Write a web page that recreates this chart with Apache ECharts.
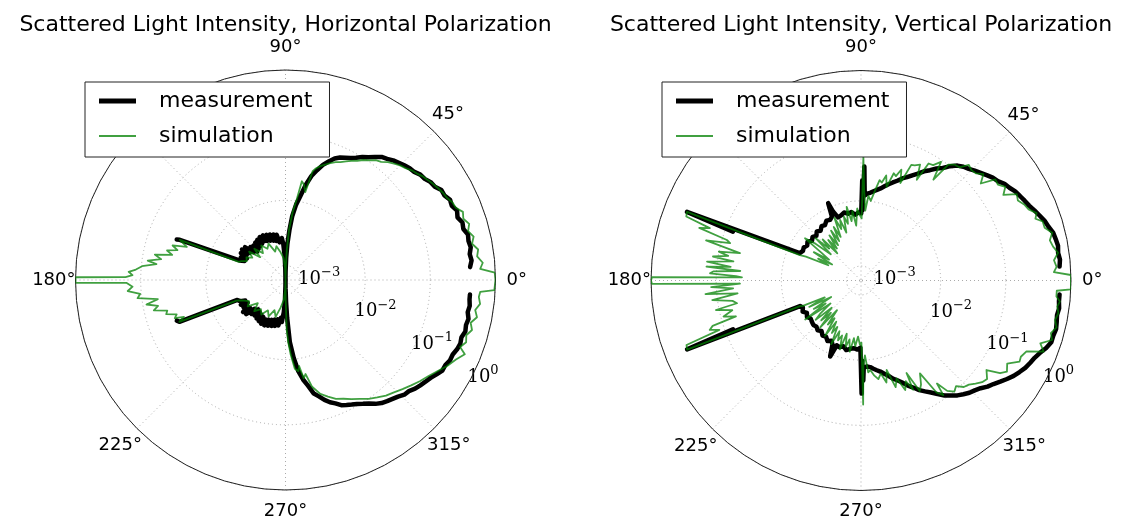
<!DOCTYPE html>
<html><head><meta charset="utf-8">
<script src="https://cdn.jsdelivr.net/npm/echarts@6/dist/echarts.min.js"></script>
<style>html,body{margin:0;padding:0;background:#fff}#c{width:1129px;height:520px}</style>
</head><body><div id="c"></div>
<script>
// ---------- DATA (angle in degrees, intensity on log scale) ----------
const titles = ['Scattered Light Intensity, Horizontal Polarization', 'Scattered Light Intensity, Vertical Polarization'];
const seriesNames = ['measurement', 'simulation'];
const angleTicks = [0, 45, 90, 135, 180, 225, 270, 315];
const radiusTicks = [0.001, 0.01, 0.1, 1];

// Horizontal polarization - measurement (upper half)
const hMeasUpAng = [4,6,8,10,12,14,16,18,20,22,24,26,28,30,32,34,36,38,40,42,44,46,48,50,52,54,56,58,60,62,64,66,68,70,72,74,76,78,80,82,84,85.5,87,88.3,89.4,90,91,92,93.5,95,97,99,101,103,105,107,109,111,113,115,117,119,121,123,125,127,129,131,133,135,137,139,141,143,145,147,149,151,153,155,157,158.3,159.2,159.6];
const hMeasUpVal = [0.414,0.445,0.429,0.461,0.445,0.461,0.414,0.429,0.386,0.414,0.373,0.386,0.347,0.347,0.302,0.291,0.262,0.253,0.228,0.22,0.205,0.19,0.177,0.16,0.149,0.129,0.112,0.101,0.0877,0.0788,0.0735,0.0685,0.0615,0.0516,0.0432,0.0338,0.0264,0.0185,0.0121,0.00883,0.00578,0.00352,0.00215,0.00131,0.0008,0.00061,0.00092,0.00141,0.00215,0.00266,0.00285,0.00231,0.00306,0.00247,0.00317,0.00256,0.00328,0.00266,0.0034,0.00275,0.00352,0.00285,0.00352,0.00275,0.0034,0.00266,0.00328,0.00256,0.00317,0.00247,0.00328,0.00266,0.00378,0.00295,0.00392,0.00306,0.00378,0.00285,0.00352,0.00295,0.00352,0.00352,0.0326,0.0362];
// Horizontal polarization - measurement (lower half)
const hMeasLoAng = [200.5,201.5,202.5,205,207,209,211,213,215,217,219,221,223,225,227,229,231,233,235,237,239,241,243,245,247,249,251,253,255,257,259,261,263,265,267,268.5,269.5,270,270.5,271.5,272.5,274,276,278,280,282,284,286,288,290,292,294,296,298,300,302,304,306,308,310,312,314,316,318,320,322,324,326,328,330,332,334,336,338,340,342,344,346,348,350,352,354,355.5];
const hMeasLoVal = [0.0362,0.0338,0.00378,0.00352,0.00295,0.00365,0.00285,0.00352,0.00306,0.00392,0.00295,0.00378,0.00266,0.00328,0.00247,0.00317,0.00256,0.00328,0.00266,0.0034,0.00275,0.00352,0.00285,0.00352,0.00275,0.0034,0.00266,0.00328,0.00256,0.00317,0.00247,0.00306,0.00231,0.00266,0.00187,0.00122,0.000745,0.00061,0.0008,0.00131,0.00231,0.00538,0.00947,0.0155,0.0213,0.0273,0.0375,0.0432,0.0516,0.0594,0.0661,0.076,0.0817,0.0877,0.094,0.1045,0.116,0.134,0.149,0.16,0.171,0.184,0.205,0.212,0.236,0.253,0.271,0.291,0.324,0.36,0.36,0.386,0.386,0.414,0.429,0.414,0.445,0.429,0.445,0.414,0.429,0.414,0.414];
// Horizontal polarization - simulation (full circle)
const hSimAng = [0,2,3.3,5,7,9,11,13,15,17,19,21,23,25,27,29,31,33,35,37,39,41,43,45,47,49,51,53,55,57,59,61,63,65,67,69,71,73,75,76,77.3,79,80.6,82,84,86,87.5,88.5,89.5,90,92,95,100,105,110,115,120,125,130,135,138,142,146,150,154,157,158.8,159.2,160,161.5,163,164.5,166,167.5,169,170.5,172,173,174.5,176,177,178.2,179,179.25,180,180.75,181,182.5,184,185.5,187,188.5,190,191.5,193,194.5,196,197.5,199,200,201.5,202.8,205,210,215,220,225,230,235,240,245,250,255,260,265,268,270,270.6,271.4,272.5,274,276,278,279,280.5,282,284,287,290,293,296,299,302,305,308,311,314,317,320,323,326,329,332,335,337.5,339,341,343,345,347,349,351,353,355,356.5,357.2,360];
const hSimVal = [1,0.98,0.59,0.655,0.55,0.59,0.494,0.55,0.477,0.531,0.461,0.494,0.414,0.4,0.36,0.347,0.324,0.302,0.281,0.262,0.236,0.22,0.197,0.184,0.166,0.149,0.129,0.12,0.1045,0.094,0.0817,0.0735,0.0661,0.0594,0.0553,0.0498,0.0448,0.0403,0.035,0.0315,0.0145,0.0185,0.0206,0.0109,0.00665,0.00352,0.00174,0.00102,0.00067,0.00061,0.00092,0.00131,0.00162,0.00207,0.00174,0.00247,0.00215,0.00266,0.00207,0.00285,0.002,0.00306,0.00247,0.00295,0.00275,0.00328,0.00352,0.0326,0.0326,0.0237,0.0389,0.0315,0.0448,0.0362,0.0661,0.0516,0.0817,0.0594,0.0975,0.12,0.154,0.134,0.171,1,1,1,0.166,0.134,0.16,0.1045,0.116,0.0573,0.0877,0.0594,0.0709,0.0448,0.0481,0.0338,0.0375,0.0273,0.0338,0.00392,0.00328,0.00266,0.00306,0.00215,0.00285,0.00231,0.00266,0.00207,0.00247,0.00187,0.00231,0.00162,0.00122,0.00086,0.00061,0.00122,0.00352,0.00538,0.0085,0.014,0.0155,0.013,0.0206,0.0179,0.0293,0.0403,0.0481,0.0573,0.0638,0.0735,0.0846,0.101,0.116,0.134,0.149,0.171,0.197,0.228,0.262,0.313,0.386,0.461,0.569,0.445,0.512,0.477,0.55,0.494,0.59,0.531,0.611,0.569,0.59,0.968,1];

// Vertical polarization - measurement (upper half)
const vMeasUpAng = [4,6,8,10,12,14,16,18,20,22,24,26,28,30,32,34,36,38,40,42,44,46,48,50,52,54,56,58,60,62,64,66,68,70,72,74,76,78,80,82,84,86,87.5,88.3,88.8,89.3,89.8,92,95,98,101,104,107,110,112,113,114.5,117,120,123,126,129,132,135,138,141,144,147,150,153,156,157.3,158.5,159.1];
const vMeasUpVal = [0.679,0.704,0.679,0.704,0.679,0.655,0.59,0.55,0.494,0.445,0.4,0.373,0.347,0.324,0.291,0.271,0.236,0.22,0.197,0.177,0.16,0.144,0.134,0.12,0.101,0.0817,0.0709,0.0594,0.0516,0.0432,0.0375,0.0326,0.0293,0.0255,0.0229,0.0206,0.0185,0.0167,0.0155,0.0145,0.0135,0.013,0.0121,0.0338,0.00714,0.0206,0.00643,0.00665,0.0062,0.0069,0.00665,0.00714,0.00665,0.00643,0.00823,0.0117,0.00714,0.00665,0.0069,0.0062,0.00643,0.00578,0.0062,0.00557,0.006,0.00557,0.0062,0.00578,0.0062,0.006,0.00643,0.0062,0.445,0.076];
// Vertical polarization - measurement (lower half)
const vMeasLoAng = [200.9,201.6,202.8,205,208,211,214,217,220,223,226,229,232,235,238,241,244,246,247.9,249.5,252,255,258,261,264,267,269.5,270.3,270.8,271.3,271.8,274,276,278,280,282,284,286,288,290,292,294,296,298,300,302,304,306,308,310,312,314,316,318,320,322,324,326,328,330,332,334,336,338,340,342,344,346,348,350,352,354,356];
const vMeasLoVal = [0.076,0.445,0.0062,0.00578,0.0062,0.00557,0.006,0.00557,0.00578,0.006,0.00578,0.0062,0.00578,0.00643,0.0062,0.0069,0.00643,0.00714,0.0109,0.0069,0.00714,0.00665,0.0074,0.0069,0.00665,0.0069,0.00643,0.0326,0.0102,0.0206,0.013,0.0126,0.013,0.014,0.015,0.0161,0.0179,0.0199,0.0229,0.0255,0.0293,0.035,0.0403,0.0481,0.0553,0.0638,0.076,0.0908,0.1045,0.12,0.134,0.149,0.16,0.177,0.205,0.228,0.262,0.302,0.347,0.386,0.429,0.461,0.494,0.55,0.633,0.704,0.704,0.729,0.704,0.679,0.704,0.679,0.679];
// Vertical polarization - simulation (full circle)
const vSimAng = [0,1.5,2.5,4,6,8,10,12,14,16,18,19.5,21,23,25,27,29,31,33,35,37,39,41,43,45,47,49,51,53,54.3,56,58,60,61,63,65,66.5,68,70,71.5,73,74.7,76.5,78,79.5,81,83,85,86.5,88,88.9,89.4,91,93,95,97,99,101,103,105,107,109,111,113,115,117,119,121,123,125,127,129,131,133,135,137,139,141,143,145,147,149,151,153,155,156.5,157.5,158.5,159.9,160.9,162,163.2,164.1,165.5,167.3,168.5,169.5,170.8,171.5,173,174,174.9,175.5,176.5,177.3,178,178.5,179.1,180,180.9,181.5,182.5,183.5,185,186,187.5,189,190.4,191.5,193,194.7,196,197,198.1,199.2,200.3,201.7,202.8,203.5,205,207,209,211,213,215,217,219,221,223,225,227,229,231,233,235,237,239,241,243,245,247,249,251,253,255,257,259,261,263,265,267,269,270.4,271,271.6,273,274.5,276,278,280,282,284,286,288,290,292,294,295.5,296.2,298,300,302.4,304,305.7,306.4,308,310,312,314,316,318,320,322,324.5,326.3,328,330.4,332.9,334.5,336.8,338.7,340.7,342.7,344.5,346.5,348.5,350.6,352.5,354,355.3,357,357.6,360];
const vSimVal = [1,1,0.55,0.611,0.569,0.679,0.59,0.55,0.633,0.512,0.512,0.414,0.461,0.373,0.347,0.302,0.324,0.212,0.262,0.22,0.228,0.139,0.184,0.154,0.149,0.16,0.12,0.116,0.101,0.0481,0.094,0.0735,0.0709,0.035,0.0594,0.0534,0.0516,0.0246,0.0389,0.0293,0.0315,0.0185,0.0273,0.0206,0.0221,0.0155,0.0102,0.0121,0.00714,0.0145,0.0481,0.00538,0.006,0.00766,0.0042,0.00714,0.005,0.0085,0.00468,0.0062,0.00352,0.00578,0.0042,0.00665,0.00328,0.005,0.00295,0.00468,0.00266,0.0042,0.00247,0.00378,0.00215,0.00436,0.00295,0.00538,0.00247,0.00468,0.00714,0.00328,0.00231,0.0042,0.00193,0.00328,0.00215,0.005,0.0062,0.445,0.429,0.171,0.244,0.0846,0.0735,0.171,0.0481,0.101,0.0709,0.12,0.0573,0.144,0.0615,0.144,0.0432,0.112,0.125,0.0498,0.0403,0.968,1,0.968,0.0432,0.12,0.0553,0.149,0.0481,0.12,0.0594,0.0516,0.112,0.0638,0.0908,0.0594,0.144,0.166,0.12,0.429,0.445,0.0062,0.00578,0.00247,0.00468,0.002,0.0042,0.00266,0.00665,0.00231,0.00378,0.005,0.00247,0.00436,0.00285,0.00538,0.00231,0.0042,0.00306,0.0062,0.00328,0.005,0.00378,0.00714,0.0042,0.00578,0.00468,0.00766,0.0042,0.00665,0.005,0.00766,0.00468,0.0062,0.00436,0.00578,0.00538,0.0481,0.0121,0.0085,0.0155,0.0145,0.0179,0.0206,0.0173,0.0246,0.0161,0.0315,0.0237,0.0389,0.0293,0.0432,0.0229,0.0498,0.0417,0.0293,0.0709,0.0877,0.0553,0.0846,0.101,0.0908,0.112,0.12,0.139,0.16,0.171,0.139,0.22,0.262,0.228,0.324,0.313,0.347,0.611,0.494,0.704,0.633,0.729,0.655,0.704,0.655,0.704,0.611,0.611,1,1];

// ---------- CHART ----------
const FONT = 'DejaVu Sans';
const SERIF = 'DejaVu Serif';
const centers = [[285.5, 280], [861, 280.5]];
const R = 210;
const RMIN = 0.0006, RMAX = 1;
const GREEN = 'rgba(0,128,0,0.75)';

function pairs(ang, val) { return ang.map((a, i) => [val[i], a]); }

const anglePad = {0:[0,0,0,25],45:[0,0,18,8],90:[0,0,28,0],135:[0,8,18,0],180:[0,14,0,0],225:[18,5,0,0],270:[26,0,0,0],315:[18,0,0,3]};
const angleRich = {};
angleTicks.forEach(a => { angleRich['a' + a] = {fontSize: 18, fontFamily: FONT, color: '#000', padding: anglePad[a]}; });

function angleFmt(v) { return (angleTicks.indexOf(v) >= 0) ? '{a' + v + '|' + v + '°}' : ''; }
function radiusFmt(v) {
  const hit = radiusTicks.find(t => Math.abs(t - v) / t < 1e-6);
  if (hit === undefined) return '';
  const n = Math.round(Math.log10(hit));
  return '{b|10}{s|' + (n < 0 ? '\u2212' + (-n) : String(n)) + '}';
}

const polar = [], angleAxis = [], radiusAxis = [], series = [], legend = [], graphic = [];
const dataSets = [
  {mUp: pairs(hMeasUpAng, hMeasUpVal), mLo: pairs(hMeasLoAng, hMeasLoVal), sim: pairs(hSimAng, hSimVal)},
  {mUp: pairs(vMeasUpAng, vMeasUpVal), mLo: pairs(vMeasLoAng, vMeasLoVal), sim: pairs(vSimAng, vSimVal)}
];
const gridLine = {color: '#aaa', width: 1, type: [1, 3]};

centers.forEach((c, k) => {
  const pData = 2 * k, pLab = 2 * k + 1;
  polar.push({center: c, radius: R});
  polar.push({center: [c[0] - 4.6, c[1]], radius: R});  // carries the radial tick labels only
  angleAxis.push({
    polarIndex: pData, type: 'value', min: 0, max: 360, interval: 45, startAngle: 0, clockwise: false, z: 1,
    axisLine: {show: true, lineStyle: {color: '#222', width: 1}},
    axisTick: {show: false},
    axisLabel: {show: true, margin: -14, formatter: angleFmt, rich: angleRich, color: '#000', fontSize: 18, fontFamily: FONT},
    splitLine: {show: true, lineStyle: gridLine}
  });
  angleAxis.push({polarIndex: pLab, type: 'value', min: 0, max: 360, startAngle: -30, show: false});
  radiusAxis.push({
    polarIndex: pData, type: 'log', logBase: 10, min: RMIN, max: RMAX, z: 0,
    axisLine: {show: false}, axisTick: {show: false}, axisLabel: {show: false},
    splitLine: {show: true, lineStyle: gridLine}
  });
  radiusAxis.push({
    polarIndex: pLab, type: 'log', logBase: 10, min: RMIN, max: RMAX, z: 0,
    axisLine: {show: false}, axisTick: {show: false}, splitLine: {show: false},
    axisLabel: {show: true, margin: 9.4, formatter: radiusFmt, rich: {
      b: {fontSize: 18, fontFamily: SERIF, color: '#000'},
      s: {fontSize: 13, fontFamily: SERIF, color: '#000', padding: [0, 0, 13, 0]}
    }}
  });
  const d = dataSets[k];
  const mStyle = {color: '#000', width: 4.5, join: 'round', cap: 'round'};
  series.push({type: 'line', name: seriesNames[0], coordinateSystem: 'polar', polarIndex: pData, data: d.mUp, symbol: 'none', lineStyle: mStyle, itemStyle: {color: '#000'}, z: 2, animation: false});
  series.push({type: 'line', name: seriesNames[0], coordinateSystem: 'polar', polarIndex: pData, data: d.mLo, symbol: 'none', lineStyle: mStyle, itemStyle: {color: '#000'}, z: 2, animation: false});
  series.push({type: 'line', name: seriesNames[1], coordinateSystem: 'polar', polarIndex: pData, data: d.sim, symbol: 'none', lineStyle: {color: GREEN, width: 1.8, join: 'round'}, itemStyle: {color: GREEN}, z: 3, animation: false});
  legend.push({
    left: k === 0 ? 85 : 662, top: 82, orient: 'vertical', selectedMode: false,
    padding: [8, 17, 10, 14], itemGap: 13, itemWidth: 37, itemHeight: 14, symbolKeepAspect: true,
    borderColor: '#222', borderWidth: 1, borderRadius: 0, backgroundColor: '#fff', z: 10,
    formatter: n => '{t|' + n + '}',
    textStyle: {fontFamily: FONT, fontSize: 22, color: '#000', rich: {t: {fontFamily: FONT, fontSize: 22, color: '#000', padding: [0, 0, 0, 18]}}},
    data: [
      {name: seriesNames[0], icon: 'path://M0,0 H37 V5 H0 Z', itemStyle: {color: '#000'}},
      {name: seriesNames[1], icon: 'path://M0,0 H37 V2 H0 Z', itemStyle: {color: GREEN}}
    ]
  });
  graphic.push({type: 'text', x: c[0], y: 25, z: 10, style: {text: titles[k], fontSize: 22, fontFamily: FONT, fill: '#000', align: 'center', verticalAlign: 'middle'}});
});

const chart = echarts.init(document.getElementById('c'), null, {renderer: 'canvas', width: 1129, height: 520});
chart.setOption({animation: false, backgroundColor: '#fff', polar, angleAxis, radiusAxis, series, legend, graphic});
</script>
</body></html>
